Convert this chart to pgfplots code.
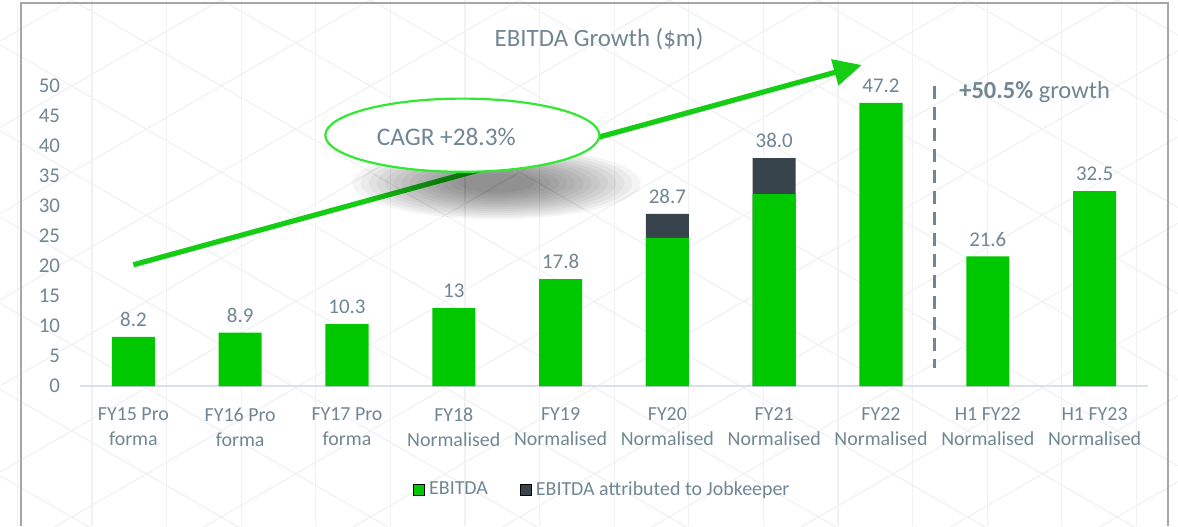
\documentclass[border=0pt]{standalone}
\usepackage{fontspec}
\setmainfont{Carlito}
\usepackage{pgfplots}
\pgfplotsset{compat=1.18}
\usepackage{pgfplotstable}
\usetikzlibrary{arrows.meta}

\definecolor{ebgreen}{RGB}{0,200,0}
\definecolor{jkdark}{RGB}{55,68,76}
\definecolor{txt}{RGB}{112,134,147}
\definecolor{axln}{RGB}{217,225,230}
\definecolor{lime}{RGB}{50,232,50}
\definecolor{arrowgreen}{RGB}{20,205,20}
\definecolor{frame}{RGB}{166,166,166}
\definecolor{bggrid}{RGB}{240,241,242}

% jktop: top of the Jobkeeper segment (0 where there is none)
\pgfplotstableread{
x ebitda jktop total lbl
0 8.2 0 8.2 8.2
1 8.9 0 8.9 8.9
2 10.3 0 10.3 10.3
3 13 0 13 13
4 17.8 0 17.8 17.8
5 24.7 28.7 28.7 28.7
6 32.0 38.0 38.0 38.0
7 47.2 0 47.2 47.2
8 21.6 0 21.6 21.6
9 32.5 0 32.5 32.5
}\datatable

\begin{document}
\begin{tikzpicture}
% faint background lattice
\begin{scope}
\clip (-40bp,-70bp) rectangle (549bp,193bp);
\foreach \i in {-2,...,16} \draw[bggrid, line width=0.6bp] ({6bp+\i*37.3bp},-70bp) -- ++(0,263bp);
\foreach \j in {-25,...,12} {
  \draw[bggrid, line width=0.6bp] (-40bp,{\j*43.1bp}) -- ++(589bp,340bp);
  \draw[bggrid, line width=0.6bp] (-40bp,{\j*43.1bp+300bp}) -- ++(589bp,-340bp);
}
\end{scope}
\draw[frame, line width=0.8bp] (-29.5bp,-70bp) -- (-29.5bp,191.5bp) -- (544bp,191.5bp) -- (544bp,-70bp);

\begin{axis}[
  scale only axis,
  width=534bp, height=150bp,
  at={(0,0)}, anchor=south west,
  xmin=-0.5, xmax=9.5, ymin=0, ymax=50,
  ybar, bar width=21.5bp,
  clip=false,
  axis x line*=bottom, axis y line*=left,
  x axis line style={axln, line width=1bp, -},
  y axis line style={draw=none},
  major tick length=0pt,
  xtick={0,...,9},
  xticklabels={{FY15 Pro\\forma},{FY16 Pro\\forma},{FY17 Pro\\forma},{FY18\\Normalised},{FY19\\Normalised},{FY20\\Normalised},{FY21\\Normalised},{FY22\\Normalised},{H1 FY22\\Normalised},{H1 FY23\\Normalised}},
  xticklabel style={align=center, text=txt, font=\fontsize{10}{12.5}\selectfont, yshift=-7.5bp},
  ytick={0,5,...,50},
  yticklabel style={text=txt, font=\fontsize{10.5}{12}\selectfont, xshift=-6.5bp},
  /pgf/number format/assume math mode=true,
  legend columns=2,
  legend style={at={(0.49,-0.347)}, anchor=center, draw=none, fill=none,
    font=\fontsize{10}{12}\selectfont, text=txt,
    /tikz/every even column/.append style={column sep=14bp}},
  legend image code/.code={\fill[#1] (0bp,-2.8bp) rectangle (5.6bp,2.8bp);},
]
\addlegendimage{fill=ebgreen}
\addlegendentry{EBITDA}
\addlegendimage{fill=jkdark}
\addlegendentry{EBITDA attributed to Jobkeeper}

\addplot[forget plot, bar shift=0pt, fill=jkdark, draw=none] table[x=x, y=jktop] {\datatable};
\addplot[forget plot, bar shift=0pt, fill=ebgreen, draw=none] table[x=x, y=ebitda] {\datatable};
\addplot[forget plot, bar shift=0pt, draw=none, fill=none,
  point meta=explicit symbolic,
  nodes near coords,
  every node near coord/.append style={text=txt, font=\fontsize{10.5}{12}\selectfont, yshift=1.5bp}
] table[x=x, y=total, meta=lbl] {\datatable};

\coordinate (ttl) at (axis cs:4.36,57.8);
\coordinate (arS) at (axis cs:0,20.2);
\coordinate (arE) at (axis cs:6.82,53.5);
\coordinate (shC) at (axis cs:3.4,33.8);
\coordinate (elC) at (axis cs:3.08,41.8);
\coordinate (elT) at (axis cs:2.93,41.5);
\coordinate (dvT) at (axis cs:7.5,50);
\coordinate (dvB) at (axis cs:7.5,3);
\coordinate (grw) at (axis cs:7.73,49);
\end{axis}

% title
\node[text=txt, font=\fontsize{12.5}{14}\selectfont] at (ttl) {EBITDA Growth (\$m)};

% CAGR arrow
\draw[arrowgreen, line width=2.6bp, -{Triangle[length=14bp,width=13bp]}] (arS) -- (arE);

% soft shadow under the callout
\foreach \s in {1.06,1.00,0.94,0.88,0.82,0.76,0.70,0.64,0.58,0.52,0.46,0.40,0.34,0.28} {
  \fill[black, opacity=0.04] (shC) ellipse [x radius={\s*68bp}, y radius={\s*17bp}];
}

% callout ellipse
\draw[lime, line width=1.1bp, fill=white] (elC) ellipse [x radius=68.5bp, y radius=18.3bp];
\node[text=txt, font=\fontsize{12.7}{14}\selectfont] at (elT) {CAGR +28.3\%};

% divider and growth note
\draw[txt, line width=1.8bp, dash pattern=on 6.5bp off 4bp] (dvT) -- (dvB);
\node[anchor=west, inner sep=0pt, text=txt, font=\fontsize{12.3}{14}\selectfont] at (grw) {\textbf{+50.5\%} growth};

\path[use as bounding box] (-40bp,-70bp) rectangle (549bp,193bp);
\end{tikzpicture}
\end{document}
